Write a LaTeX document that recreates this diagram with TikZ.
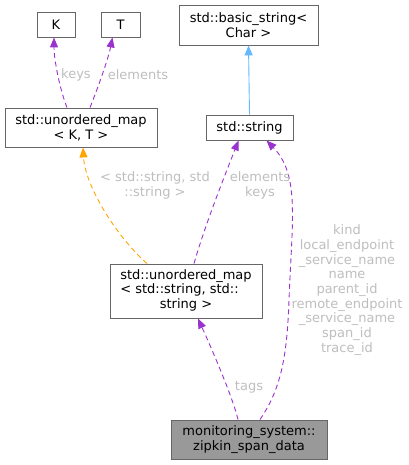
\documentclass[tikz,border=0pt]{standalone}
\usepackage{fontspec}
\setmainfont{DejaVu Sans}
\usetikzlibrary{arrows.meta}
\definecolor{edgepurple}{HTML}{9A32CD}
\definecolor{edgeorange}{HTML}{FFA500}
\definecolor{edgeblue}{HTML}{63B8FF}
\definecolor{boxline}{HTML}{666666}
\definecolor{lblgray}{HTML}{BEBEBE}
\definecolor{mainfill}{HTML}{999999}
\begin{document}
\begin{tikzpicture}[x=1pt,y=-1pt,
  every node/.style={font=\fontsize{13}{14.7}\selectfont},
  cls/.style={draw=boxline,line width=0.9pt,fill=white,inner sep=0pt,align=center},
  lbl/.style={text=lblgray,inner sep=0pt,align=center},
  tip/.style={-{Triangle[length=10pt,width=8pt]}},
  dep/.style={tip,draw=edgepurple,line width=0.9pt,dash pattern=on 5pt off 3.5pt},
  tmpl/.style={tip,draw=edgeorange,line width=0.9pt,dash pattern=on 5pt off 3.5pt},
  inh/.style={tip,draw=edgeblue,line width=0.9pt}]
\useasboundingbox (0,0) rectangle (408,465);
\node[cls,minimum width=38pt,minimum height=25pt] (K) at (56,24.5) {K};
\node[cls,minimum width=39pt,minimum height=25pt] (T) at (120.5,24.5) {T};
\node[cls,minimum width=139pt,minimum height=40pt] (bstr) at (248.5,25) {std::basic\_string<\\Char >};
\node[cls,minimum width=87pt,minimum height=25pt] (str) at (249.5,127.5) {std::string};
\node[cls,minimum width=152pt,minimum height=39pt] (umapKT) at (81,127.5) {std::unordered\_map\\< K, T >};
\node[cls,minimum width=152pt,minimum height=54pt] (umapSS) at (186,291)
  {\begin{tabular}{@{}l@{}}std::unordered\_map\\< std::string, std::\\\multicolumn{1}{@{}c@{}}{string >}\end{tabular}};
\node[cls,fill=mainfill,minimum width=156pt,minimum height=39pt] (zip) at (249,439.5) {monitoring\_system::\\zipkin\_span\_data};

% edges
\draw[dep] ([xshift=-14pt]umapKT.north) .. controls (60,90) and (54,60) .. ([xshift=-2pt]K.south);
\draw[dep] ([xshift=9pt]umapKT.north) .. controls (97,90) and (108,60) .. ([xshift=-8pt]T.south);
\draw[inh] (str.north) -- (bstr.south);
\draw[tmpl] ([xshift=-39pt]umapSS.north) .. controls (115,235) and (85,185) .. ([xshift=2pt]umapKT.south);
\draw[dep] ([xshift=8pt]umapSS.north) .. controls (205,225) and (225,175) .. ([xshift=-11pt]str.south);
\draw[dep] ([xshift=11pt]zip.north) .. controls (280,390) and (287,360) .. (289,300) .. controls (292,220) and (300,175) .. ([xshift=17pt]str.south);
\draw[dep] ([xshift=-11pt]zip.north) .. controls (232,395) and (210,345) .. ([xshift=12pt]umapSS.south);

% labels
\node[lbl] (lkeys) at (76,75) {keys};
\node[lbl] (lelem) at (138,75) {elements};
\node[lbl] (ltmpl) at (155,185.5) {< std::string, std\\::string >};
\node[lbl] (lek) at (260,185.5) {elements\\keys};
\node[lbl] (lkind) at (347,290) {kind\\local\_endpoint\\\_service\_name\\name\\parent\_id\\remote\_endpoint\\\_service\_name\\span\_id\\trace\_id};
\node[lbl] (ltags) at (249,387) {tags};
\end{tikzpicture}
\end{document}
